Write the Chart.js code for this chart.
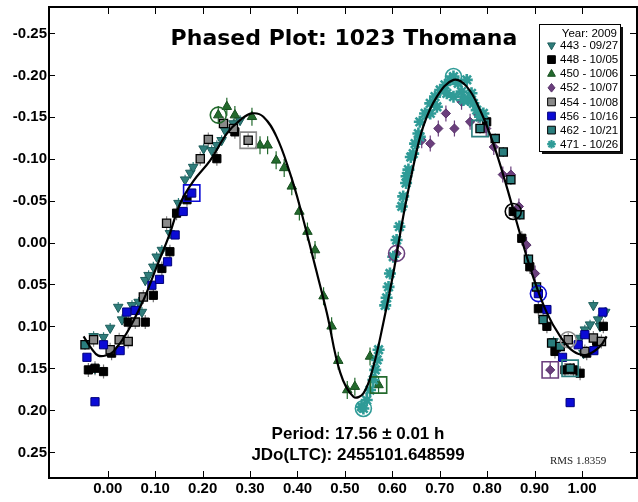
<!DOCTYPE html>
<html><head><meta charset="utf-8">
<script src="https://cdn.jsdelivr.net/npm/chart.js"></script>
<style>html,body{margin:0;padding:0;background:#fff}#c{display:block}</style>
</head><body>
<canvas id="c" width="638" height="502"></canvas>
<script>
// ---------- data ----------
const xTicks = [0.0,0.1,0.2,0.3,0.4,0.5,0.6,0.7,0.8,0.9,1.0];
const yTicks = [-0.25,-0.20,-0.15,-0.10,-0.05,0.00,0.05,0.10,0.15,0.20,0.25];
const titleText = 'Phased Plot: 1023 Thomana';
const periodText = 'Period: 17.56 \u00b1 0.01 h';
const epochText = 'JDo(LTC): 2455101.648599';
const rmsText = 'RMS 1.8359';
const legendTitle = 'Year: 2009';
const seriesKeys = ['443','448','450','452','454','456','462','471'];
const seriesLabels = ['443 - 09/27','448 - 10/05','450 - 10/06','452 - 10/07','454 - 10/08','456 - 10/16','462 - 10/21','471 - 10/26'];

const s443 = [[-0.030,0.112],[-0.009,0.113],[-0.027,0.150],[0.005,0.102],[0.022,0.077],[0.030,0.092],[0.051,0.075],[0.065,0.071],[0.072,0.083],[0.079,0.045],[0.086,0.039],[0.096,0.029],[0.103,0.017],[0.114,0.009],[0.131,-0.011],[0.149,-0.047],[0.163,-0.075],[0.174,-0.083],[0.180,-0.090],[0.202,-0.112],[0.219,-0.110],[0.230,-0.116],[0.240,-0.122],[0.247,-0.134],[0.265,-0.142],[0.279,-0.146],
  [0.918,0.092],[0.940,0.118],[0.954,0.124],[0.996,0.114],[1.003,0.132],[1.006,0.104],[1.017,0.098],[1.024,0.075],[1.034,0.092],[1.038,0.100],[1.049,0.083]];
const s448 = [[-0.041,0.152],[-0.027,0.150],[-0.009,0.154],[0.008,0.132],[0.043,0.095],[0.079,0.095],[0.096,0.063],[0.114,0.031],[0.131,0.011],[0.145,-0.035],[0.167,-0.051],[0.230,-0.100],[0.268,-0.132],
  [0.799,-0.144],[0.855,-0.037],[0.873,-0.005],[0.890,0.029],[0.908,0.079],[0.926,0.100],[0.943,0.130],[0.964,0.152],[0.982,0.152],[0.996,0.156],[1.010,0.132],[1.031,0.118],[1.045,0.100]];
const s450 = [[0.233,-0.152],[0.251,-0.162],[0.268,-0.152],[0.304,-0.150],[0.321,-0.116],[0.337,-0.116],[0.355,-0.098],[0.372,-0.089],[0.388,-0.067],[0.404,-0.037],[0.421,-0.013],[0.437,0.009],[0.455,0.064],[0.472,0.100],[0.486,0.141],[0.505,0.176],[0.521,0.172],[0.553,0.136],[0.571,0.170]];
const s452 = [[0.609,0.013],[0.662,-0.122],[0.680,-0.118],[0.697,-0.136],[0.713,-0.154],[0.731,-0.136],[0.746,-0.168],[0.764,-0.144],[0.781,-0.152],[0.798,-0.136],[0.814,-0.114],[0.833,-0.081],[0.850,-0.081],[0.867,-0.043],[0.883,0.003],[0.901,0.037],[0.933,0.152]];
const s454 = [[-0.030,0.116],[0.005,0.128],[0.024,0.116],[0.043,0.118],[0.058,0.095],[0.075,0.065],[0.124,-0.023],[0.195,-0.100],[0.212,-0.123],[0.244,-0.142],[0.265,-0.136],[0.296,-0.122],[0.971,0.116],[1.006,0.130],[1.024,0.114],[1.041,0.118]];
const s456 = [[-0.044,0.137],[-0.027,0.190],[-0.009,0.122],[0.026,0.129],[0.040,0.083],[0.058,0.081],[0.093,0.051],[0.109,0.044],[0.126,0.023],[0.142,-0.009],[0.159,-0.037],[0.177,-0.059],
  [0.908,0.061],[0.926,0.080],[0.959,0.137],[0.975,0.191],[0.992,0.122],[1.006,0.110],[1.025,0.129],[1.044,0.083]];
const s462 = [[-0.048,0.122],[0.785,-0.136],[0.817,-0.124],[0.834,-0.108],[0.850,-0.075],[0.869,-0.033],[0.887,0.020],[0.904,0.053],[0.918,0.092],[0.936,0.120],[0.954,0.124],[0.975,0.150]];
const s471 = [[0.535,0.196],[0.539,0.198],[0.546,0.188],[0.553,0.176],[0.560,0.164],[0.564,0.152],[0.568,0.140],[0.571,0.128],[0.585,0.075],[0.588,0.066],[0.592,0.053],[0.595,0.037],[0.602,0.017],[0.609,-0.003],[0.615,-0.019],[0.620,-0.043],[0.623,-0.055],[0.629,-0.071],[0.630,-0.079],[0.634,-0.087],[0.639,-0.102],[0.644,-0.106],[0.648,-0.118],[0.655,-0.130],[0.658,-0.126],[0.658,-0.144],[0.669,-0.154],[0.680,-0.154],[0.680,-0.166],[0.690,-0.174],[0.694,-0.162],[0.701,-0.182],[0.711,-0.188],[0.715,-0.178],[0.722,-0.194],[0.729,-0.198],[0.729,-0.174],[0.739,-0.190],[0.746,-0.180],[0.750,-0.170],[0.757,-0.194],[0.760,-0.170],[0.767,-0.178],[0.771,-0.166],[0.778,-0.158],[0.785,-0.150],[0.792,-0.154]];

const fitCurve = [[-0.051,0.112],[-0.035,0.126],[-0.020,0.135],[0.000,0.134],[0.012,0.130],[0.040,0.108],[0.075,0.069],[0.103,0.029],[0.131,-0.011],[0.152,-0.046],[0.180,-0.073],[0.216,-0.098],[0.251,-0.130],[0.279,-0.146],[0.304,-0.154],[0.328,-0.150],[0.356,-0.126],[0.384,-0.083],[0.405,-0.043],[0.434,0.021],[0.462,0.084],[0.490,0.155],[0.518,0.184],[0.539,0.180],[0.560,0.148],[0.581,0.096],[0.602,0.037],[0.623,-0.031],[0.644,-0.090],[0.665,-0.138],[0.694,-0.174],[0.729,-0.194],[0.757,-0.186],[0.785,-0.158],[0.813,-0.118],[0.841,-0.067],[0.869,-0.011],[0.897,0.041],[0.926,0.084],[0.954,0.112],[0.982,0.130],[1.010,0.134],[1.038,0.124],[1.052,0.112]];

const circleMarks = [[0.233,-0.152],[0.971,0.116],[0.908,0.061],[0.539,0.198],[0.729,-0.198],[0.609,0.013],[0.855,-0.037]];
const circleMarkSeries = ['450','454','456','471','471','452','448'];
const squareMarks = [[0.571,0.170],[0.296,-0.122],[0.177,-0.059],[0.933,0.152],[0.785,-0.136],[0.975,0.150]];
const squareMarkSeries = ['450','454','456','452','462','462'];

// ---------- styles ----------
const styles = {
  '443': {pointStyle:'triangle', rotation:180, radius:5.5, bg:'#2f7d7b', border:'#1e5e5c', bw:1, err:5},
  '448': {pointStyle:'rect', rotation:0, radius:5.8, bg:'#000000', border:'#000000', bw:1, err:7, errColor:'#777'},
  '450': {pointStyle:'triangle', rotation:0, radius:5.5, bg:'#236a2d', border:'#174f1f', bw:1, err:9},
  '452': {pointStyle:'rectRot', rotation:0, radius:4.6, bg:'#6b3f7d', border:'#553068', bw:1, err:8},
  '454': {pointStyle:'rect', rotation:0, radius:5.8, bg:'#8a8a8a', border:'#000000', bw:1.3, err:7},
  '456': {pointStyle:'rect', rotation:0, radius:5.8, bg:'#0b0bd6', border:'#00007a', bw:1, err:4},
  '462': {pointStyle:'rect', rotation:0, radius:5.8, bg:'#2a7e7e', border:'#000000', bw:1.3, err:5},
  '471': {pointStyle:'star', rotation:0, radius:6, bg:'#2f9b97', border:'#2f9b97', bw:2.6, err:5}
};
const ringColor = {'443':'#2f7d7b','448':'#000000','450':'#236a2d','452':'#6b3f7d','454':'#8a8a8a','456':'#0b0bd6','462':'#2a7e7e','471':'#2f9b97'};
const seriesData = {'443':s443,'448':s448,'450':s450,'452':s452,'454':s454,'456':s456,'462':s462,'471':s471};

const toXY = arr => arr.map(p => ({x:p[0], y:p[1]}));

const datasets = [];
datasets.push({type:'line', label:'fit', data:toXY(fitCurve), borderColor:'#000', borderWidth:2.2, pointRadius:0, tension:0.4, fill:false, order:0});
datasets.push({type:'scatter', label:'circles', data:toXY(circleMarks), pointStyle:'circle', pointRadius:8, backgroundColor:'rgba(0,0,0,0)', borderColor:circleMarkSeries.map(k=>ringColor[k]), borderWidth:1.6, order:1});
datasets.push({type:'scatter', label:'squares', data:toXY(squareMarks), pointStyle:'rect', pointRadius:11.5, backgroundColor:'rgba(0,0,0,0)', borderColor:squareMarkSeries.map(k=>ringColor[k]), borderWidth:1.6, order:1});
seriesKeys.forEach((k,i) => {
  const st = styles[k];
  datasets.push({type:'scatter', label:seriesLabels[i], data:toXY(seriesData[k]), pointStyle:st.pointStyle, rotation:st.rotation, pointRotation:st.rotation,
    pointRadius:st.radius, backgroundColor:st.bg, borderColor:st.border, borderWidth:st.bw, order:10-i, errHalf:st.err, errColor:st.errColor||st.bg});
});

function drawMarker(ctx, st, x, y, r){
  ctx.save();
  ctx.translate(x,y);
  ctx.rotate((st.rotation||0)*Math.PI/180);
  ctx.fillStyle = st.bg; ctx.strokeStyle = st.border; ctx.lineWidth = st.pointStyle==='star'?2.2:1;
  ctx.beginPath();
  if (st.pointStyle==='triangle'){
    ctx.moveTo(0,-r); ctx.lineTo(r*0.9,r*0.6); ctx.lineTo(-r*0.9,r*0.6); ctx.closePath(); ctx.fill(); ctx.stroke();
  } else if (st.pointStyle==='rect'){
    ctx.rect(-r*0.9,-r*0.9,r*1.8,r*1.8); ctx.fill(); ctx.stroke();
  } else if (st.pointStyle==='rectRot'){
    ctx.moveTo(0,-r); ctx.lineTo(r*0.8,0); ctx.lineTo(0,r); ctx.lineTo(-r*0.8,0); ctx.closePath(); ctx.fill(); ctx.stroke();
  } else if (st.pointStyle==='star'){
    for (let a=0;a<4;a++){const t=a*Math.PI/4; ctx.moveTo(-Math.cos(t)*r,-Math.sin(t)*r); ctx.lineTo(Math.cos(t)*r,Math.sin(t)*r);} ctx.stroke();
  }
  ctx.restore();
}

const errPlugin = {
  id:'errbars',
  beforeDatasetsDraw(chart){
    const ctx = chart.ctx;
    ctx.save();
    chart.data.datasets.forEach((ds,i) => {
      if (!ds.errHalf) return;
      const meta = chart.getDatasetMeta(i);
      ctx.strokeStyle = ds.errColor; ctx.lineWidth = 1.2;
      ctx.beginPath();
      meta.data.forEach(pt => { ctx.moveTo(pt.x, pt.y-ds.errHalf); ctx.lineTo(pt.x, pt.y+ds.errHalf); });
      ctx.stroke();
    });
    ctx.restore();
  }
};

const tickFontCss = 'bold 15px "Liberation Sans", Arial, sans-serif';
const fmt = v => Number(v).toFixed(2);

const framePlugin = {
  id:'frame',
  afterDatasetsDraw(chart){
    const {ctx, chartArea:a} = chart;
    const xs = chart.scales.x, ys = chart.scales.y;
    ctx.save();
    ctx.strokeStyle='#000'; ctx.lineWidth=1;
    ctx.beginPath();
    xTicks.forEach(v => { const px = Math.round(xs.getPixelForValue(v))+0.5; ctx.moveTo(px,a.bottom); ctx.lineTo(px,a.bottom-7); ctx.moveTo(px,a.top); ctx.lineTo(px,a.top+7); });
    yTicks.forEach(v => { const py = Math.round(ys.getPixelForValue(v))+0.5; ctx.moveTo(a.left,py); ctx.lineTo(a.left+6,py); ctx.moveTo(a.right,py); ctx.lineTo(a.right-7,py); });
    ctx.stroke();
    ctx.lineWidth=2;
    ctx.strokeRect(a.left, a.top, a.right-a.left, a.bottom-a.top);
    // tick labels
    ctx.fillStyle='#000'; ctx.font=tickFontCss; ctx.textBaseline='middle';
    ctx.textAlign='center';
    xTicks.forEach(v => ctx.fillText(fmt(v), xs.getPixelForValue(v), a.bottom+11));
    ctx.textAlign='right';
    yTicks.forEach(v => ctx.fillText(fmt(v), a.left-2, ys.getPixelForValue(v)+0.5));
    ctx.restore();
  }
};

const textPlugin = {
  id:'texts',
  afterDraw(chart){
    const ctx = chart.ctx;
    ctx.save();
    ctx.fillStyle='#000'; ctx.textBaseline='alphabetic'; ctx.textAlign='center';
    ctx.font='bold 22px "DejaVu Sans", sans-serif';
    ctx.fillText(titleText, 344, 45);
    ctx.font='bold 17px "Liberation Sans", Arial, sans-serif';
    ctx.fillText(periodText, 358, 439);
    ctx.fillText(epochText, 358, 460);
    ctx.textAlign='left';
    ctx.fillStyle='#222';
    ctx.font='11px "Liberation Serif", "Times New Roman", serif';
    ctx.fillText(rmsText, 550, 464);
    // legend
    const L=539.5, T=24.5, R=620.5, B=151.5;
    ctx.fillStyle='#111'; ctx.fillRect(L+2.5, T+2.5, R-L, B-T);
    ctx.fillStyle='#fff'; ctx.fillRect(L, T, R-L, B-T);
    ctx.strokeStyle='#000'; ctx.lineWidth=1; ctx.strokeRect(L, T, R-L, B-T);
    ctx.font='11.5px "Liberation Sans", Arial, sans-serif';
    ctx.fillStyle='#000'; ctx.textBaseline='middle';
    ctx.textAlign='right';
    ctx.fillText(legendTitle, 617, 34);
    ctx.textAlign='left';
    seriesKeys.forEach((k,i) => {
      const yy = 45.5 + i*14.1;
      drawMarker(ctx, styles[k], 551.5, yy, 4.3);
      ctx.fillStyle='#000';
      ctx.fillText(seriesLabels[i], 560, yy+0.5);
    });
    ctx.restore();
  }
};

new Chart(document.getElementById('c'), {
  data:{datasets},
  options:{
    responsive:false, animation:false, events:[],
    layout:{autoPadding:false, padding:{top:7,right:1,left:0,bottom:0}},
    plugins:{legend:{display:false}, tooltip:{enabled:false}, title:{display:false}},
    scales:{
      x:{type:'linear', min:-0.124, max:1.116,
        grid:{display:false, drawTicks:false}, border:{display:false},
        afterBuildTicks: s => { s.ticks = xTicks.map(v => ({value:v})); },
        afterFit: s => { s.height = 24; },
        ticks:{display:false}},
      y:{type:'linear', reverse:true, min:-0.281, max:0.281,
        grid:{display:false, drawTicks:false}, border:{display:false},
        afterBuildTicks: s => { s.ticks = yTicks.map(v => ({value:v})); },
        afterFit: s => { s.width = 49; },
        ticks:{display:false}}
    }
  },
  plugins:[errPlugin, framePlugin, textPlugin]
});
</script>
</body></html>
